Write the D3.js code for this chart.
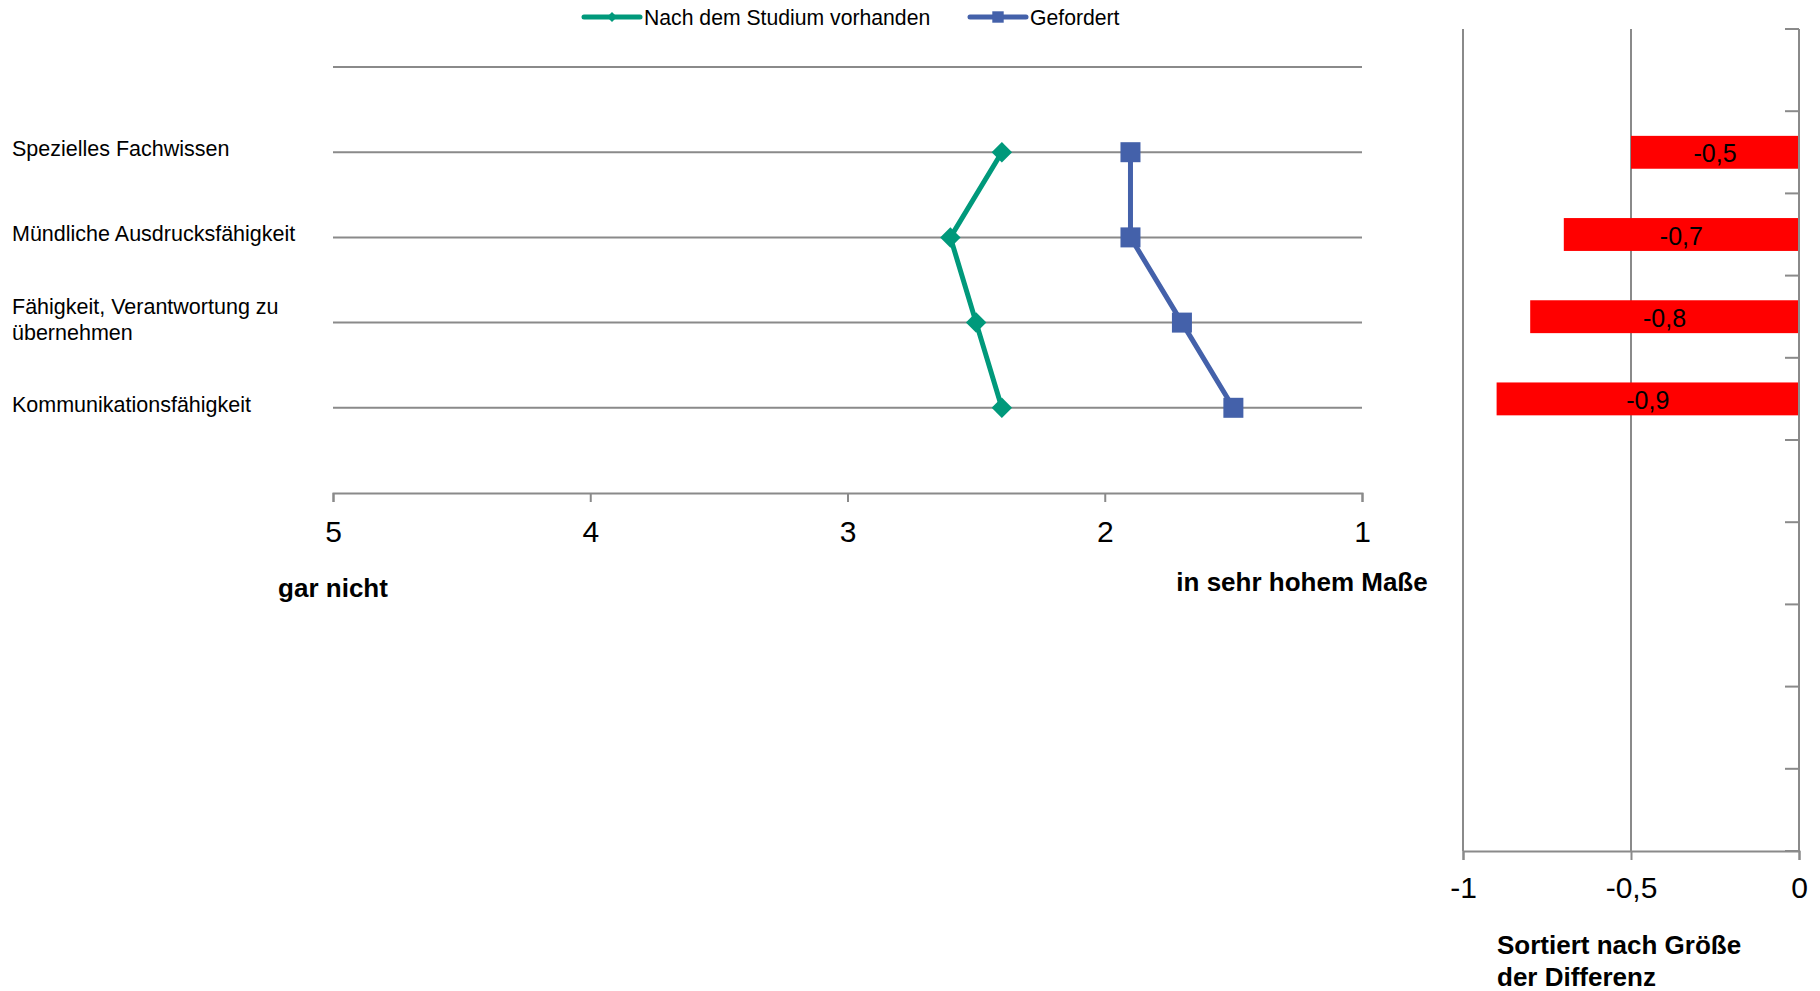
<!DOCTYPE html>
<html>
<head>
<meta charset="utf-8">
<script src="https://cdn.jsdelivr.net/npm/d3@7"></script>
<style>
  body { margin: 0; background: #fff; }
  svg { font-family: "Liberation Sans", Arial, sans-serif; }
</style>
</head>
<body>
<svg id="chart" width="1820" height="991"></svg>
<script>
// Kompetenzen, von oben nach unten
const categories = [
    ["Spezielles Fachwissen"],
    ["Mündliche Ausdrucksfähigkeit"],
    ["Fähigkeit, Verantwortung zu", "übernehmen"],
    ["Kommunikationsfähigkeit"]
];
const vorhanden = [2.4, 2.6, 2.5, 2.4];
const gefordert = [1.9, 1.9, 1.7, 1.5];
const differenz = [-0.5, -0.7, -0.8, -0.9];
const xTicks = [5, 4, 3, 2, 1];
const diffTicks = [-1, -0.5, 0];
const diffSlots = 10;   // Anzahl Kategorien im Differenz-Diagramm

const green = "#00997b", blue = "#4461aa", grid = "#8a8a8a";
const fmt = v => String(v).replace(".", ",");

const svg = d3.select("#chart");

// ---- linkes Diagramm ----
const x = d3.scaleLinear().domain([5, 1]).range([333, 1362]);
const y = d3.scaleLinear().domain([0, categories.length + 1]).range([493, 67]);
const yPos = i => y(categories.length - i);

svg.append("g").selectAll("line")
    .data(d3.range(1, categories.length + 2))
    .enter().append("line")
    .attr("x1", x(5)).attr("x2", x(1))
    .attr("y1", d => y(d)).attr("y2", d => y(d))
    .attr("stroke", grid).attr("stroke-width", 2);

const xAxis = svg.append("g")
    .attr("transform", "translate(0," + y(0) + ")")
    .call(d3.axisBottom(x).tickValues(xTicks).tickSize(9).tickPadding(19).tickFormat(fmt));
xAxis.select(".domain").attr("stroke", grid).attr("stroke-width", 2);
xAxis.selectAll(".tick line").attr("stroke", grid).attr("stroke-width", 2);
xAxis.selectAll(".tick text").attr("font-size", 30).attr("fill", "#000")
    .attr("font-family", "Liberation Sans, Arial, sans-serif");

// Kategorie-Beschriftung
const lab = svg.append("g").selectAll("text")
    .data(categories)
    .enter().append("text")
    .attr("x", 12)
    .attr("y", (d, i) => yPos(i) + 4 - (d.length - 1) * 13)
    .attr("font-size", 21.5).attr("fill", "#000");
lab.selectAll("tspan")
    .data(d => d)
    .enter().append("tspan")
    .attr("x", 12)
    .attr("dy", (d, i) => i ? 26 : 0)
    .text(d => d);

// Linien
const line = d3.line().x(d => x(d[0])).y(d => yPos(d[1]));
svg.append("path")
    .datum(vorhanden.map((v, i) => [v, i]))
    .attr("d", line).attr("fill", "none")
    .attr("stroke", green).attr("stroke-width", 5);
svg.append("path")
    .datum(gefordert.map((v, i) => [v, i]))
    .attr("d", line).attr("fill", "none")
    .attr("stroke", blue).attr("stroke-width", 5);

svg.append("g").selectAll("path")
    .data(vorhanden)
    .enter().append("path")
    .attr("d", d3.symbol().type(d3.symbolSquare).size(210))
    .attr("transform", (d, i) => "translate(" + x(d) + "," + yPos(i) + ") rotate(45)")
    .attr("fill", green);
svg.append("g").selectAll("rect")
    .data(gefordert)
    .enter().append("rect")
    .attr("x", d => x(d) - 10).attr("y", (d, i) => yPos(i) - 10)
    .attr("width", 20).attr("height", 20)
    .attr("fill", blue);

svg.append("text").attr("x", x(5)).attr("y", 597)
    .attr("text-anchor", "middle").attr("font-size", 26).attr("font-weight", "bold")
    .text("gar nicht");
svg.append("text").attr("x", 1302).attr("y", 591)
    .attr("text-anchor", "middle").attr("font-size", 26).attr("font-weight", "bold")
    .text("in sehr hohem Maße");

// Legende
const legend = [
    { name: "Nach dem Studium vorhanden", color: green, x: 584, shape: "diamond" },
    { name: "Gefordert", color: blue, x: 970, shape: "square" }
];
const lg = svg.append("g").selectAll("g")
    .data(legend)
    .enter().append("g")
    .attr("transform", d => "translate(" + d.x + ",17)");
lg.append("line").attr("x1", 0).attr("x2", 56)
    .attr("stroke", d => d.color).attr("stroke-width", 5).attr("stroke-linecap", "round");
lg.append("path")
    .attr("d", d => d3.symbol().type(d3.symbolSquare).size(d.shape == "diamond" ? 50 : 130)())
    .attr("transform", d => "translate(28,0)" + (d.shape == "diamond" ? " rotate(45)" : ""))
    .attr("fill", d => d.color);
lg.append("text").attr("x", 60).attr("y", 8)
    .attr("font-size", 21.2).attr("fill", "#000")
    .text(d => d.name);

// ---- rechtes Diagramm: Differenz ----
const dx = d3.scaleLinear().domain([-1, 0]).range([1463, 1799]);
const dy = d3.scaleBand().domain(d3.range(diffSlots)).range([29, 851])
    .paddingInner(0.6).paddingOuter(0.3);

svg.append("g").selectAll("line")
    .data(diffTicks.slice(0, -1))
    .enter().append("line")
    .attr("x1", d => dx(d)).attr("x2", d => dx(d))
    .attr("y1", dy.range()[0]).attr("y2", dy.range()[1])
    .attr("stroke", grid).attr("stroke-width", 2);

svg.append("g").selectAll("rect")
    .data(differenz)
    .enter().append("rect")
    .attr("x", d => dx(d))
    .attr("y", (d, i) => dy(i + 1))
    .attr("width", d => dx(0) - dx(d))
    .attr("height", dy.bandwidth())
    .attr("fill", "#ff0000");

svg.append("g").selectAll("text")
    .data(differenz)
    .enter().append("text")
    .attr("x", d => (dx(d) + dx(0)) / 2)
    .attr("y", (d, i) => dy(i + 1) + dy.bandwidth() / 2 + 10)
    .attr("text-anchor", "middle").attr("font-size", 25).attr("fill", "#000")
    .text(d => fmt(d));

// Kategorienachse bei 0 mit Teilstrichen nach innen
const bounds = d3.range(diffSlots + 1).map(k => dy.range()[0] + k * dy.step());
svg.append("line")
    .attr("x1", dx(0)).attr("x2", dx(0))
    .attr("y1", dy.range()[0]).attr("y2", dy.range()[1])
    .attr("stroke", grid).attr("stroke-width", 2);
svg.append("g").selectAll("line")
    .data(bounds)
    .enter().append("line")
    .attr("x1", dx(0) - 14).attr("x2", dx(0))
    .attr("y1", d => d).attr("y2", d => d)
    .attr("stroke", grid).attr("stroke-width", 2);

const dAxis = svg.append("g")
    .attr("transform", "translate(0," + dy.range()[1] + ")")
    .call(d3.axisBottom(dx).tickValues(diffTicks).tickSize(9).tickPadding(17).tickFormat(fmt));
dAxis.select(".domain").attr("stroke", grid).attr("stroke-width", 2);
dAxis.selectAll(".tick line").attr("stroke", grid).attr("stroke-width", 2);
dAxis.selectAll(".tick text").attr("font-size", 30).attr("fill", "#000")
    .attr("font-family", "Liberation Sans, Arial, sans-serif");

svg.append("text").attr("x", 1497).attr("y", 954)
    .attr("font-size", 26).attr("font-weight", "bold")
    .selectAll("tspan")
    .data(["Sortiert nach Größe", "der Differenz"])
    .enter().append("tspan")
    .attr("x", 1497).attr("dy", (d, i) => i ? 32 : 0)
    .text(d => d);
</script>
</body>
</html>
